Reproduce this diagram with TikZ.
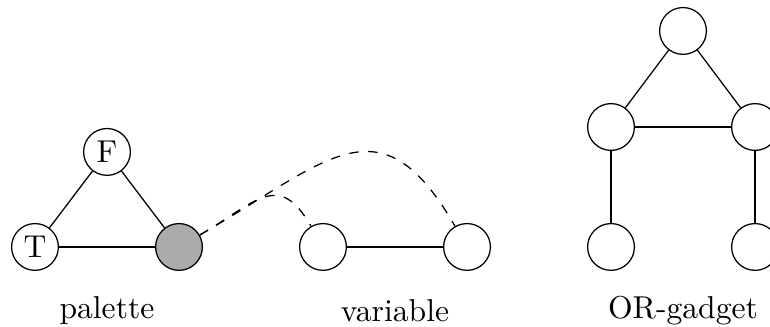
\documentclass[tikz,border=0pt]{standalone}
\usepackage{tikz}
\usetikzlibrary{arrows.meta}

\begin{document}
\begin{tikzpicture}[x=1.6cm, y=1.6cm,
    vertex/.style={circle, draw, minimum size=0.52cm, inner sep=0pt},
    picked/.style={vertex, fill=black!33}]
    \useasboundingbox (-0.243, -0.549) rectangle (5.104, 1.715);
    % palette
    \node[vertex] (T) at (0, 0){T};
    \node[vertex] (F) at (0.5, 0.66){F};
    \node[picked] (P) at (1, 0){};
    \draw (T)--(F);
    \draw (F)--(P);
    \draw (T)--(P);
    \node (palette) at (0.5, -0.44){palette};
    % variable
    \node[vertex] (V1) at (2, 0){};
    \node[vertex] (V2) at (3, 0){};
    \draw (V1)--(V2);
    \node (variable) at (2.5, -0.44){variable};
    \draw[dashed] (P) to[out=30, in=120, looseness=1.5] (V1);
    \draw[dashed] (P) to[out=30, in=120, looseness=1.5] (V2);
    % OR-gadget
    \node[vertex] (ORtop) at (4.5, 1.5){};
    \node[vertex] (ORleft) at (4, 0.833){};
    \node[vertex] (ORright) at (5, 0.833){};
    \node[vertex] (ORinA) at (4, 0){};
    \node[vertex] (ORinB) at (5, 0){};
    \draw (ORtop)--(ORleft);
    \draw (ORtop)--(ORright);
    \draw (ORleft)--(ORright);
    \draw (ORleft)--(ORinA);
    \draw (ORright)--(ORinB);
    \node (orgadget) at (4.5, -0.44){OR-gadget};
  \end{tikzpicture}
\end{document}
